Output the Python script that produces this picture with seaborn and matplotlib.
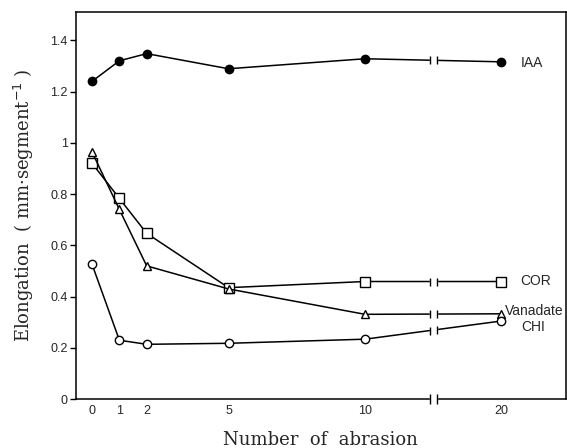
import numpy as np
import pandas as pd
import matplotlib
matplotlib.use('Agg')
import matplotlib.pyplot as plt
import seaborn as sns

# data
abrasion = [0, 1, 2, 5, 10, 20]
tick_labels = ['0', '1', '2', '5', '10', '20']
iaa = [1.24, 1.32, 1.348, 1.289, 1.328, 1.316]
cor = [0.92, 0.783, 0.647, 0.435, 0.459, 0.459]
vanadate = [0.964, 0.74, 0.52, 0.43, 0.331, 0.333]
chi = [0.526, 0.23, 0.214, 0.218, 0.234, 0.305]
y_ticks = [0, 0.2, 0.4, 0.6, 0.8, 1.0, 1.2, 1.4]
y_tick_labels = ['0', '0.2', '0.4', '0.6', '0.8', '1', '1.2', '1.4']

# broken x axis: 20 is drawn at position 15
def to_pos(x):
    x = np.asarray(x, dtype=float)
    return np.where(x > 12, x - 5, x)

series = [
    ('IAA', iaa, 'o', 'black'),
    ('COR', cor, 's', 'white'),
    ('Vanadate', vanadate, '^', 'white'),
    ('CHI', chi, 'o', 'white'),
]

sns.set_style('white')
plt.rcParams['font.family'] = ['Liberation Sans', 'DejaVu Sans']

fig = plt.figure(figsize=(5.67, 4.48), dpi=100)
ax = fig.add_axes([0.134, 0.109, 0.864, 0.864])

xpos = to_pos(abrasion)
for name, vals, mk, fc in series:
    df = pd.DataFrame({'pos': xpos, 'val': vals})
    sns.lineplot(data=df, x='pos', y='val', ax=ax, color='black', lw=1.1,
                 marker=mk, markersize=6 if mk != 's' else 6.5,
                 markerfacecolor=fc, markeredgecolor='black', markeredgewidth=1.0,
                 sort=False, zorder=3)

# axis break
bx0, bx1 = 12.38, 12.62
ax.axvspan(bx0, bx1, ymin=-0.01, ymax=0.95, color='white', zorder=5, clip_on=False)
for name, vals, mk, fc in series:
    yb = np.interp([bx0, bx1], xpos, vals)
    ax.plot([bx0, bx1], yb, ls='none', marker='|', ms=6, mew=1.0, color='black', zorder=6)
ax.plot([bx0, bx1], [0, 0], ls='none', marker='|', ms=7, mew=1.0, color='black',
        zorder=6, clip_on=False)

# right-hand labels
ax.text(15.72, 1.313, 'IAA', fontsize=10, va='center', ha='left')
ax.text(15.68, 0.46, 'COR', fontsize=10, va='center', ha='left')
ax.text(15.12, 0.345, 'Vanadate', fontsize=10, va='center', ha='left')
ax.text(15.74, 0.28, 'CHI', fontsize=10, va='center', ha='left')

ax.set_xlim(-0.59, 17.36)
ax.set_ylim(0, 1.51)
ax.set_xticks(to_pos(abrasion))
ax.set_xticklabels(tick_labels, fontsize=9)
ax.set_xticks([3, 4, 6, 7, 8, 9, 11, 12, 13, 14], minor=True)
ax.set_yticks(y_ticks)
ax.set_yticklabels(y_tick_labels, fontsize=9)
ax.tick_params(axis='x', which='both', direction='in', length=4, width=1, color='black', pad=4)
ax.tick_params(axis='y', direction='out', length=4, width=1, color='black', pad=2, left=True)

for sp in ax.spines.values():
    sp.set_color('black')
    sp.set_linewidth(1.1)

ax.set_xlabel('Number  of  abrasion', family=['DejaVu Serif'],
              fontsize=13, labelpad=10)
ax.set_ylabel('Elongation  ( mm·segment$^{-1}$ )', family=['DejaVu Serif'],
              fontsize=13, labelpad=10)

fig.savefig('out.png', dpi=100)
